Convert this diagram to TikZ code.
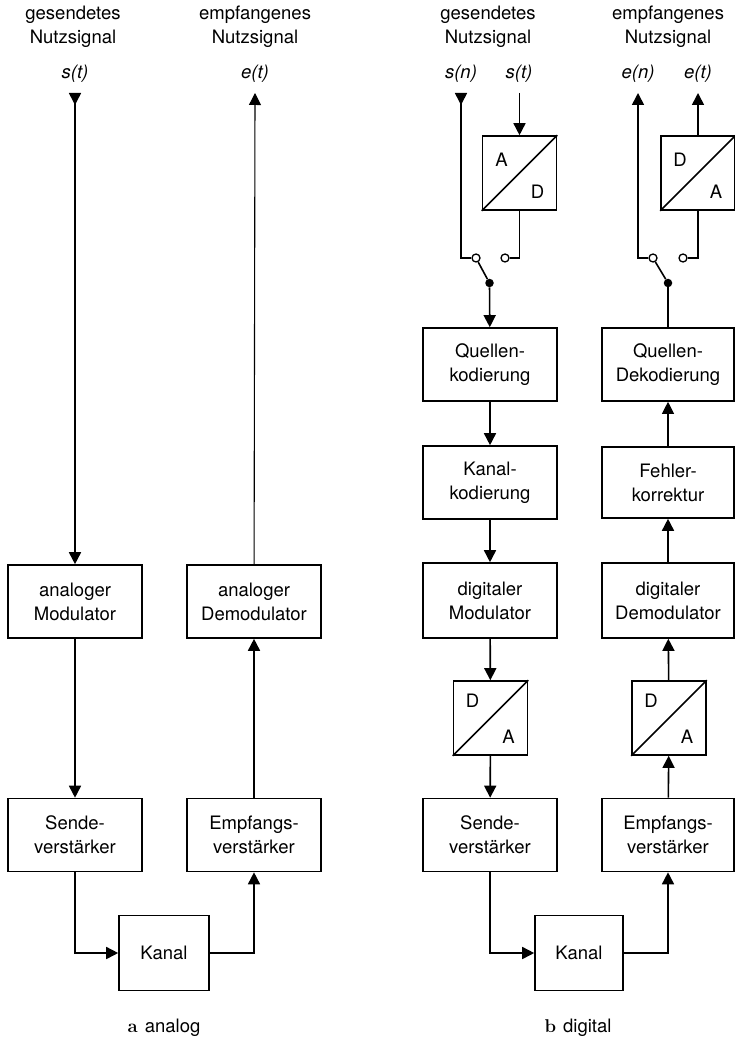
\documentclass[tikz,border=0pt]{standalone}
\usepackage{fontspec}
\setsansfont{TeX Gyre Heros}
\usetikzlibrary{arrows.meta,calc}

\tikzset{
  block/.style={draw, line width=1.6pt, minimum width=134pt, minimum height=73pt,
    align=center, inner sep=0pt},
  wandler/.style={draw, line width=1.6pt, minimum size=74pt, inner sep=0pt},
  kontakt/.style={circle, draw, fill=white, line width=1.3pt, inner sep=0pt, minimum size=8pt},
  punkt/.style={circle, fill=black, inner sep=0pt, minimum size=8.5pt},
  pfeil/.style={line width=1.6pt, -{Triangle[length=12pt,width=12pt]}},
  eingang/.style={line width=1.6pt, {Triangle[reversed,length=12pt,width=12pt]}-},
  eingangpfeil/.style={line width=1.6pt,
    {Triangle[reversed,length=12pt,width=12pt]}-{Triangle[length=12pt,width=12pt]}},
  leitung/.style={line width=1.6pt}
}

\begin{document}
\begin{tikzpicture}[x=1pt,y=-1pt,font=\sffamily\fontsize{18.5}{24}\selectfont]
\useasboundingbox (0,0) rectangle (735,1040);

% a: analoge Uebertragung
\node[align=center] (agesendet) at (73,27) {gesendetes\\Nutzsignal};
\node[align=center] (aempfangen) at (255,27) {empfangenes\\Nutzsignal};
\node (ast) at (75,74) {\itshape s(t)};
\node (aet) at (255,74) {\itshape e(t)};
\coordinate (astin) at (75,93);
\coordinate (aetout) at (255,93);

\node[block] (amod) at (75,601.5) {analoger\\Modulator};
\node[block] (ademod) at (254,601.5) {analoger\\Demodulator};
\node[block] (asend) at (75,835) {Sende-\\verstärker};
\node[block] (aemp) at (254,835) {Empfangs-\\verstärker};
\node[block, minimum width=90pt, minimum height=75pt] (akanal) at (164,953) {Kanal};

\draw[eingangpfeil] (astin) -- (amod);
\draw[pfeil] (amod) -- (asend);
\draw[pfeil] (asend.south) |- (akanal.west);
\draw[pfeil] (akanal.east) -| (aemp.south);
\draw[pfeil] (aemp) -- (ademod);
\draw[pfeil, line width=1.1pt] (ademod) -- (aetout);

\node (alab) at (164,1028) {{\rmfamily\bfseries a}\hspace{7pt}analog};

% b: digitale Uebertragung, Sendeseite
\node[align=center] (dgesendet) at (488,27) {gesendetes\\Nutzsignal};
\node (dsn) at (461,74) {\itshape s(n)};
\node (dst) at (519,74) {\itshape s(t)};
\coordinate (dsnin) at (461,93);
\coordinate (dstin) at (519.5,93);

\node[wandler] (ad) at (519.5,173) {};
\draw[line width=1.6pt] (ad.south west) -- (ad.north east);
\node (ad-a) at ($(ad)+(-18,-13)$) {A};
\node (ad-d) at ($(ad)+(18,19)$) {D};

\node[kontakt] (s1a) at (476,258) {};
\node[kontakt] (s1b) at (505,258) {};
\node[punkt] (s1p) at (489.5,283) {};

\node[block] (qkod) at (490,364.5) {Quellen-\\kodierung};
\node[block] (kkod) at (490,482.5) {Kanal-\\kodierung};
\node[block, minimum height=75pt] (dmod) at (490,600.5) {digitaler\\Modulator};
\node[wandler] (da1) at (490.5,718) {};
\draw[line width=1.6pt] (da1.south west) -- (da1.north east);
\node (da1-d) at ($(da1)+(-18,-17)$) {D};
\node (da1-a) at ($(da1)+(18,19)$) {A};
\node[block] (dsend) at (490,835) {Sende-\\verstärker};
\node[block, minimum width=88pt, minimum height=75pt] (dkanal) at (579,953) {Kanal};

\draw[eingang] (dsnin) |- (s1a);
\draw[pfeil] (dstin) -- (ad);
\draw[leitung] (ad.south) |- (s1b);
\draw[leitung] (s1a) -- (s1p);
\draw[pfeil] (s1p) -- (qkod);
\draw[pfeil] (qkod) -- (kkod);
\draw[pfeil] (kkod) -- (dmod);
\draw[pfeil] (dmod) -- (da1);
\draw[pfeil] (da1) -- (dsend);
\draw[pfeil] (dsend.south) |- (dkanal.west);

% b: Empfangsseite
\node[align=center] (dempfangen) at (668,27) {empfangenes\\Nutzsignal};
\node (den) at (638,74) {\itshape e(n)};
\node (det) at (698,74) {\itshape e(t)};
\coordinate (denout) at (638,93);
\coordinate (detout) at (698,93);

\node[wandler] (da3) at (698,173) {};
\draw[line width=1.6pt] (da3.south west) -- (da3.north east);
\node (da3-d) at ($(da3)+(-18,-13)$) {D};
\node (da3-a) at ($(da3)+(18,19)$) {A};

\node[kontakt] (s2a) at (653,258) {};
\node[kontakt] (s2b) at (683,258) {};
\node[punkt] (s2p) at (668,283) {};

\node[block, minimum width=132pt] (qdek) at (668,364.5) {Quellen-\\Dekodierung};
\node[block, minimum width=132pt, minimum height=71pt] (fehler) at (668,482.5) {Fehler-\\korrektur};
\node[block, minimum width=132pt, minimum height=75pt] (ddemod) at (668,600.5) {digitaler\\Demodulator};
\node[wandler] (da2) at (669,718) {};
\draw[line width=1.6pt] (da2.south west) -- (da2.north east);
\node (da2-d) at ($(da2)+(-18,-17)$) {D};
\node (da2-a) at ($(da2)+(18,19)$) {A};
\node[block, minimum width=132pt] (demp) at (668,835) {Empfangs-\\verstärker};

\draw[pfeil] (dkanal.east) -| (demp.south);
\draw[pfeil] (demp) -- (da2);
\draw[pfeil] (da2) -- (ddemod);
\draw[pfeil] (ddemod) -- (fehler);
\draw[pfeil, line width=1.1pt] (fehler) -- (qdek);
\draw[leitung] (qdek) -- (s2p);
\draw[leitung] (s2p) -- (s2a);
\draw[pfeil] (s2a) -| (denout);
\draw[leitung] (s2b) -| (da3.south);
\draw[pfeil] (da3) -- (detout);

\node (dlab) at (578,1028) {{\rmfamily\bfseries b}\hspace{7pt}digital};
\end{tikzpicture}
\end{document}
